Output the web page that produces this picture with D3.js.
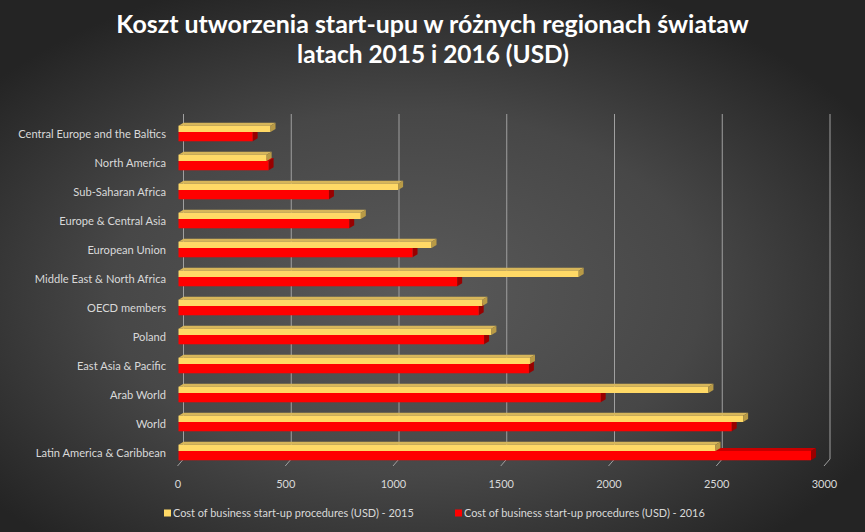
<!DOCTYPE html>
<html><head><meta charset="utf-8">
<script src="https://cdn.jsdelivr.net/npm/d3@7"></script>
<style>body{margin:0;background:#333;overflow:hidden}</style>
</head><body>
<svg id="c" width="865" height="532"></svg>
<script>
const categories = ["Central Europe and the Baltics","North America","Sub-Saharan Africa","Europe & Central Asia","European Union","Middle East & North Africa","OECD members","Poland","East Asia & Pacific","Arab World","World","Latin America & Caribbean"];
const values2015 = [427,409,1019,846,1174,1857,1410,1452,1631,2459,2620,2492];
const values2016 = [344,418,698,792,1086,1293,1393,1418,1626,1959,2567,2935];
const xTicks = [0,500,1000,1500,2000,2500,3000];
const seriesNames = ["Cost of business start-up procedures (USD) - 2015","Cost of business start-up procedures (USD) - 2016"];
const titleLines = ["Koszt utworzenia start-upu w różnych regionach świataw","latach 2015 i 2016 (USD)"];

const W = 865, Hh = 532;
const svg = d3.select("#c");
const FONT = "Lato, 'Open Sans', sans-serif";

// background
const defs = svg.append("defs");
const rg = defs.append("radialGradient").attr("id","bg").attr("cx","0.47").attr("cy","0.55").attr("r","0.62");
rg.append("stop").attr("offset","0").attr("stop-color","#5a5a5a");
rg.append("stop").attr("offset","0.55").attr("stop-color","#474747");
rg.append("stop").attr("offset","1").attr("stop-color","#242424");
svg.append("rect").attr("width",W).attr("height",Hh).attr("fill","url(#bg)");

function fit(sel, target) {
  const len = sel.node().getComputedTextLength();
  const fs = parseFloat(sel.attr("font-size"));
  return fs * target / len;
}

// scales
const DX = 5, DY = 3;
const xBack = d3.scaleLinear().domain([0,3000]).range([183.5, 830]);
const xFront = d3.scaleLinear().domain([0,3000]).range([183.5-DX, 830-DX]);
const y = d3.scaleBand().domain(categories).range([117.5,465.5]).paddingInner(0.36).paddingOuter(0.18);
const BH = y.bandwidth()/2;

// gridlines on back wall + floor slants
const grid = svg.append("g");
xTicks.forEach(t => {
  grid.append("line").attr("x1",xBack(t)).attr("x2",xBack(t)).attr("y1",114).attr("y2",459)
    .attr("stroke","#a0a0a0").attr("stroke-width",1);
  grid.append("line").attr("x1",xBack(t)).attr("x2",xBack(t)-6).attr("y1",459).attr("y2",466)
    .attr("stroke","#a0a0a0").attr("stroke-width",1);
});

// x tick labels
const xAxis = d3.axisBottom(xFront).tickValues(xTicks).tickSize(0).tickPadding(0).tickFormat(d3.format("d"));
const gx = svg.append("g").attr("transform","translate(0,480)").call(xAxis);
gx.select(".domain").remove();
gx.selectAll("text").attr("fill","#d9d9d9").attr("font-family",FONT).attr("font-size",11).attr("dx",-1);

// y labels
const yAxis = d3.axisLeft(y).tickSize(0).tickPadding(0);
const gy = svg.append("g").attr("transform","translate(166,2)").call(yAxis);
gy.select(".domain").remove();
gy.selectAll("text").attr("fill","#d9d9d9").attr("font-family",FONT).attr("font-size",11);
{
  const longest = gy.selectAll("text").filter(d => d === categories[0]);
  const fs = fit(longest, 148);
  gy.selectAll("text").attr("font-size", fs);
}

const poly = pts => pts.map(p => p.join(",")).join(" ");

// bars
const bars = svg.append("g");
categories.forEach((c,i) => {
  const y0 = y(c);
  const x0 = xFront(0);
  const a = xFront(values2015[i]);
  const b = xFront(values2016[i]);
  const g = bars.append("g");
  // red top & side (behind)
  g.append("polygon").attr("points", poly([[x0,y0+BH],[b,y0+BH],[b+DX,y0+BH-DY],[x0+DX,y0+BH-DY]])).attr("fill","#c80000");
  g.append("polygon").attr("points", poly([[b,y0+BH],[b+DX,y0+BH-DY],[b+DX,y0+2*BH-DY],[b,y0+2*BH]])).attr("fill","#990000");
  // yellow
  g.append("polygon").attr("points", poly([[x0,y0+DY],[a,y0+DY],[a+DX,y0],[x0+DX,y0]])).attr("fill","#d7b65a");
  g.append("rect").attr("x",x0).attr("y",y0+DY).attr("width",a-x0).attr("height",BH-DY).attr("fill","#ffd966");
  g.append("polygon").attr("points", poly([[a,y0+DY],[a+DX,y0],[a+DX,y0+BH-DY],[a,y0+BH]])).attr("fill","#b89a46");
  // red front
  g.append("rect").attr("x",x0).attr("y",y0+BH).attr("width",b-x0).attr("height",BH).attr("fill","#ff0000");
});

// title
titleLines.forEach((t,i) => {
  const tx = svg.append("text").attr("x", i===0 ? 432.5 : 433).attr("y", i===0 ? 33 : 63)
    .attr("text-anchor","middle").attr("fill","#ffffff").attr("font-family",FONT)
    .attr("font-weight","bold").attr("font-size",21).text(t);
  const target = i===0 ? 633 : 272;
  tx.attr("font-size", fit(tx, target));
});

// legend
const legX = [164, 455];
const legColors = ["#ffd966","#ff0000"];
seriesNames.forEach((s,i) => {
  svg.append("rect").attr("x",legX[i]).attr("y",509.5).attr("width",7).attr("height",7).attr("fill",legColors[i]);
  const tx = svg.append("text").attr("x",legX[i]+9).attr("y",517).attr("fill","#d9d9d9")
    .attr("font-family",FONT).attr("font-size",10.5).text(s);
  tx.attr("font-size", fit(tx, 241));
});
</script>
</body></html>
